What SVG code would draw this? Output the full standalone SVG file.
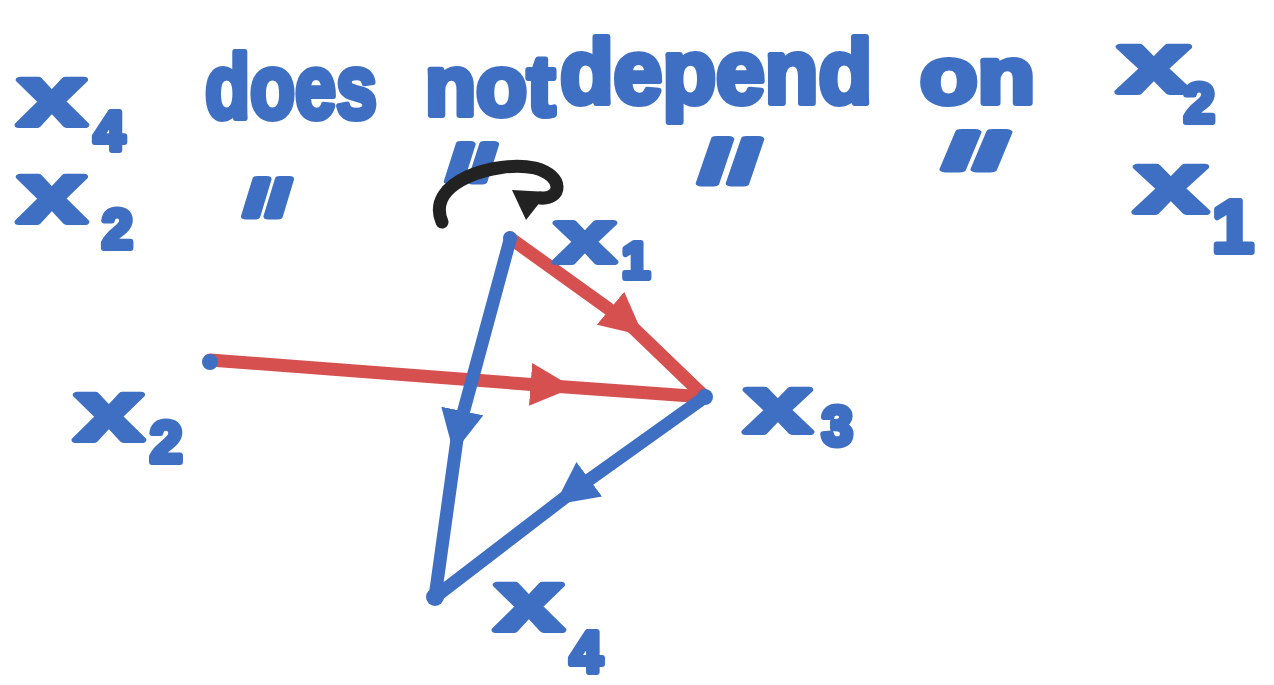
<svg xmlns="http://www.w3.org/2000/svg" width="1274" height="685" viewBox="0 0 1274 685">
<style>
.t{font-family:"Liberation Sans","DejaVu Sans",sans-serif;font-weight:bold;fill:#3e6fc3;stroke:#3e6fc3;stroke-width:6;stroke-linejoin:round;stroke-linecap:round}
.blue{stroke:#3e6fc3;stroke-width:13;fill:none;stroke-linecap:round;stroke-linejoin:round}
.red{stroke:#d6504f;stroke-width:13;fill:none;stroke-linecap:round;stroke-linejoin:round}
.blk{stroke:#222;stroke-width:13;fill:none;stroke-linecap:round}
.dot{fill:#3e6fc3}
</style>
<defs>
<marker id="mb" viewBox="0 0 10 10" refX="5" refY="5" markerWidth="3.3" markerHeight="3.3" markerUnits="strokeWidth" orient="auto"><path d="M0,0 L10,5 L0,10 Z" fill="#3e6fc3"/></marker>
<marker id="mr" viewBox="0 0 10 10" refX="5" refY="5" markerWidth="3.3" markerHeight="3.3" markerUnits="strokeWidth" orient="auto"><path d="M0,0 L10,5 L0,10 Z" fill="#d6504f"/></marker>
</defs>
<rect width="1274" height="685" fill="#ffffff"/>
<g id="heading">
<text class="t" x="18" y="125" font-size="85" textLength="68" lengthAdjust="spacingAndGlyphs">x</text>
<text class="t" x="94" y="150" font-size="55">4</text>
<text class="t" x="205" y="118" font-size="90" textLength="172" lengthAdjust="spacingAndGlyphs">does</text>
<text class="t" x="425" y="115" font-size="85" textLength="130" lengthAdjust="spacingAndGlyphs">not</text>
<text class="t" x="560" y="103" font-size="90" textLength="312" lengthAdjust="spacingAndGlyphs">depend</text>
<text class="t" x="920" y="103" font-size="80" textLength="115" lengthAdjust="spacingAndGlyphs">on</text>
<text class="t" x="1118" y="92" font-size="85" textLength="72" lengthAdjust="spacingAndGlyphs">x</text>
<text class="t" x="1184" y="122" font-size="55">2</text>
<text class="t" x="18" y="222" font-size="85" textLength="68" lengthAdjust="spacingAndGlyphs">x</text>
<text class="t" x="102" y="248" font-size="55">2</text>
<text class="t" x="245" y="215" font-size="50" textLength="45" lengthAdjust="spacingAndGlyphs">//</text>
<text class="t" x="448" y="180" font-size="50" textLength="47" lengthAdjust="spacingAndGlyphs">//</text>
<text class="t" x="700" y="182" font-size="60" textLength="60" lengthAdjust="spacingAndGlyphs">//</text>
<text class="t" x="945" y="168" font-size="50" textLength="62" lengthAdjust="spacingAndGlyphs">//</text>
<text class="t" x="1135" y="212" font-size="85" textLength="72" lengthAdjust="spacingAndGlyphs">x</text>
<text class="t" x="1212" y="252" font-size="75">1</text>
</g>
<g id="connectors">
<path class="red" d="M510,238 L627,322 L705,397" marker-mid="url(#mr)"/>
<path class="red" d="M210,360 L552,386 L705,397" marker-mid="url(#mr)"/>
<path class="blue" d="M510,240 L458,432 L435,597" marker-mid="url(#mb)"/>
<path class="blue" d="M705,397 L572,492 L435,597" marker-mid="url(#mb)"/>
<path class="blk" d="M442,222 C425,182 495,160 535,168 C565,176 562,200 540,198"/>
<path d="M512,190 L548,192 L526,220 Z" fill="#222"/>
</g>
<g id="x1"><circle class="dot" cx="510" cy="238" r="7"/><text class="t" x="555" y="262" font-size="75" textLength="60" lengthAdjust="spacingAndGlyphs">x</text><text class="t" x="622" y="278" font-size="50">1</text></g>
<g id="x2"><circle class="dot" cx="210" cy="362" r="8"/><text class="t" x="75" y="440" font-size="85" textLength="68" lengthAdjust="spacingAndGlyphs">x</text><text class="t" x="150" y="462" font-size="58">2</text></g>
<g id="x3"><circle class="dot" cx="705" cy="397" r="8"/><text class="t" x="745" y="432" font-size="80" textLength="66" lengthAdjust="spacingAndGlyphs">x</text><text class="t" x="822" y="445" font-size="55">3</text></g>
<g id="x4"><circle class="dot" cx="435" cy="597" r="9"/><text class="t" x="495" y="630" font-size="85" textLength="68" lengthAdjust="spacingAndGlyphs">x</text><text class="t" x="570" y="672" font-size="58">4</text></g>
</svg>
